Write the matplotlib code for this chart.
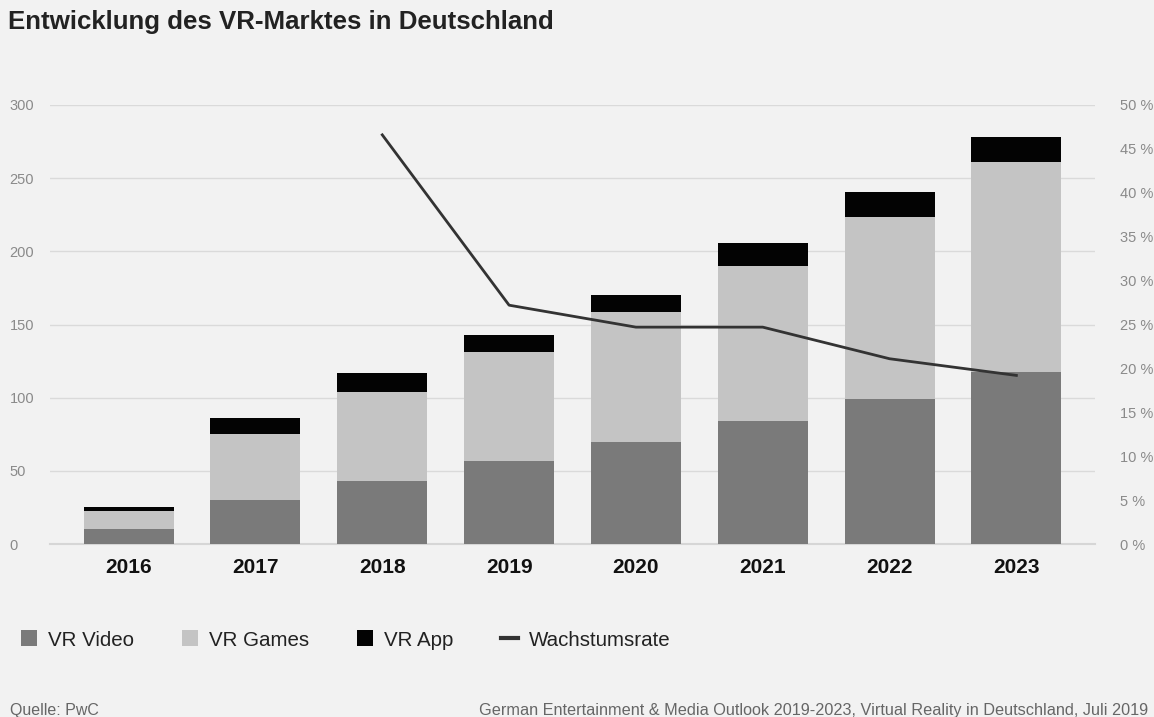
import matplotlib.pyplot as plt
from matplotlib.patches import Patch
from matplotlib.lines import Line2D
import numpy as np

plt.rcParams["font.family"] = ["Liberation Sans", "DejaVu Sans"]

# data (Mio. EUR, growth in %)
years = ["2016", "2017", "2018", "2019", "2020", "2021", "2022", "2023"]
vr_video = [10, 30, 43, 57, 70, 84, 99, 117.5]
vr_games = [12.5, 45, 61, 74, 88.5, 106, 124.5, 143.5]
vr_app = [2.5, 11, 13, 12, 11.5, 15.5, 17, 17]
growth_years = ["2018", "2019", "2020", "2021", "2022", "2023"]
growth_rate = [46.6, 27.2, 24.7, 24.7, 21.1, 19.2]

c_video = "#7a7a7a"
c_games = "#c4c4c4"
c_app = "#030303"
c_line = "#333333"
bg = "#f2f2f2"


def main():
    fig = plt.figure(figsize=(11.54, 7.17), dpi=100, facecolor=bg)
    ax = fig.add_axes([50 / 1154, 1 - 544 / 717, 1045 / 1154, 439 / 717])
    ax.set_facecolor(bg)

    x = np.arange(len(years))
    w = 0.71
    video = np.array(vr_video)
    games = np.array(vr_games)
    app = np.array(vr_app)
    ax.bar(x, video, w, color=c_video, zorder=3)
    ax.bar(x, games, w, bottom=video, color=c_games, zorder=3)
    ax.bar(x, app, w, bottom=video + games, color=c_app, zorder=3)

    ax.set_xlim(-0.62, len(years) - 1 + 0.62)
    ax.set_ylim(0, 300)
    ax.set_yticks(range(0, 301, 50))
    ax.grid(axis="y", color="#dadada", linewidth=1, zorder=0)
    ax.axhline(0, color="#d6d6d6", linewidth=1.5, zorder=2, clip_on=False)
    for s in ax.spines.values():
        s.set_visible(False)
    ax.tick_params(axis="y", length=0, pad=29, labelsize=10.5, labelcolor="#8a8a8a")
    for lab in ax.get_yticklabels():
        lab.set_ha("left")
    ax.set_xticks(x)
    ax.set_xticklabels(years, fontsize=15, fontweight="bold", color="#111111")
    ax.tick_params(axis="x", length=0, pad=10)

    # growth rate on the secondary axis
    ax2 = ax.twinx()
    gx = [years.index(y) for y in growth_years]
    ax2.plot(gx, growth_rate, color=c_line, linewidth=2, zorder=4)
    ax2.set_ylim(0, 50)
    ax2.set_yticks(range(0, 51, 5))
    ax2.set_yticklabels([f"{v} %" for v in range(0, 51, 5)])
    ax2.tick_params(axis="y", length=0, pad=18, labelsize=10.5, labelcolor="#8a8a8a")
    for s in ax2.spines.values():
        s.set_visible(False)

    fig.text(8 / 1154, 1 - 22 / 717, "Entwicklung des VR-Marktes in Deutschland",
             fontsize=18.6, fontweight="bold", color="#222222", va="center", ha="left")

    handles = [
        Patch(facecolor=c_video, label="VR Video"),
        Patch(facecolor=c_games, label="VR Games"),
        Patch(facecolor=c_app, label="VR App"),
        Line2D([], [], color=c_line, linewidth=3, label="Wachstumsrate"),
    ]
    fig.legend(handles=handles, loc="center left", bbox_to_anchor=(0.0, 1 - 640 / 717),
               ncol=4, frameon=False, fontsize=14.8, handlelength=0.8, handleheight=0.8,
               handletextpad=0.55, columnspacing=2.3, borderaxespad=0.6,
               labelcolor="#222222")

    fig.text(10 / 1154, 1 - 710 / 717, "Quelle: PwC", fontsize=11.5, color="#666666",
             va="center", ha="left")
    fig.text(1148 / 1154, 1 - 710 / 717,
             "German Entertainment & Media Outlook 2019-2023, Virtual Reality in Deutschland, Juli 2019",
             fontsize=11.7, color="#666666", va="center", ha="right")

    fig.savefig("out.png", dpi=100, facecolor=bg)


if __name__ == "__main__":
    main()
